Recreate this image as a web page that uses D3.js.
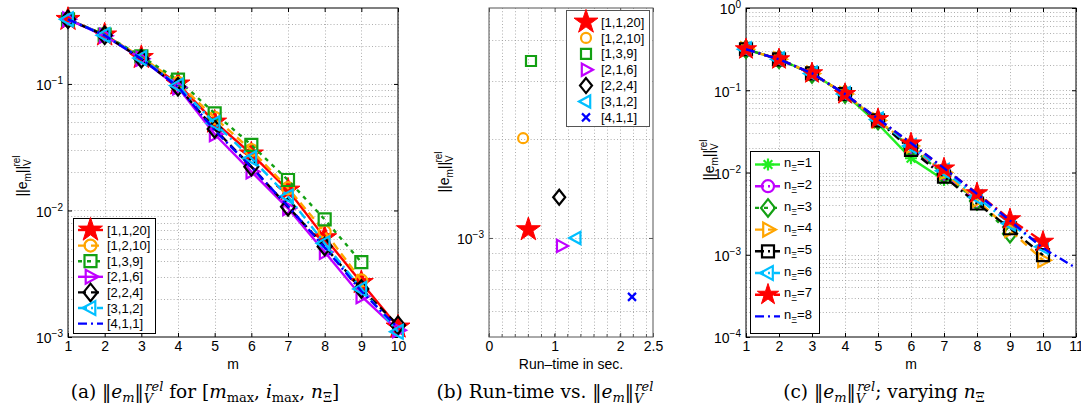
<!DOCTYPE html>
<html>
<head>
<meta charset="utf-8">
<script src="https://cdn.jsdelivr.net/npm/d3@7"></script>
<style>
  body { margin: 0; background: #fff; }
  svg { display: block; }
  text { font-family: "Liberation Sans", Arial, Helvetica, sans-serif; fill: #000; }
  .cap { font-family: "DejaVu Serif", "Liberation Serif", serif; }
</style>
</head>
<body>
<svg id="fig" width="1081" height="418"></svg>
<script>
// ---------- data ----------
// (a) relative error vs. m for the [m_max, i_max, n_Xi] settings
const mA = [1, 2, 3, 4, 5, 6, 7, 8, 9, 10];
const seriesA_names = ["[1,1,20]", "[1,2,10]", "[1,3,9]", "[2,1,6]", "[2,2,4]", "[3,1,2]", "[4,1,1]"];
const errA_1_1_20 = [0.324, 0.244, 0.162, 0.100, 0.050, 0.0280, 0.0145, 0.0061, 0.0027, 0.00120];
const errA_1_2_10 = [0.324, 0.244, 0.163, 0.102, 0.054, 0.0300, 0.0150, 0.0068, 0.0028];
const errA_1_3_9  = [0.324, 0.245, 0.165, 0.108, 0.0586, 0.0330, 0.0174, 0.0085, 0.0039];
const errA_2_1_6  = [0.324, 0.240, 0.158, 0.094, 0.0400, 0.0203, 0.0104, 0.0047, 0.0021, 0.00113];
const errA_2_2_4  = [0.324, 0.242, 0.158, 0.095, 0.0440, 0.0222, 0.0107, 0.0052, 0.0024, 0.00124];
const errA_3_1_2  = [0.324, 0.243, 0.160, 0.097, 0.0489, 0.0259, 0.0129, 0.0055, 0.0024, 0.00110];
const errA_4_1_1  = [0.324, 0.242, 0.158, 0.095, 0.0430, 0.0220, 0.0108, 0.0051, 0.0023, 0.00118];

// (b) run-time in seconds vs. final relative error
const runtimeB = [0.60, 0.52, 0.64, 1.10, 1.07, 1.33, 2.18];
const errB     = [1.06e-3, 2.01e-3, 3.45e-3, 9.46e-4, 1.33e-3, 1.0e-3, 6.62e-4];

// (c) relative error vs. m for varying n_Xi
const mC = [1, 2, 3, 4, 5, 6, 7, 8, 9, 10, 11];
const seriesC_names = ["1", "2", "3", "4", "5", "6", "7", "8"];
const errC_n1 = [0.315, 0.238, 0.160, 0.090, 0.039, 0.0149, 0.0081];
const errC_n2 = [0.315, 0.238, 0.160, 0.090, 0.043, 0.0200, 0.0095, 0.0044];
const errC_n3 = [0.315, 0.238, 0.158, 0.090, 0.043, 0.0200, 0.0095, 0.0045, 0.0018];
const errC_n4 = [0.315, 0.238, 0.160, 0.090, 0.043, 0.0210, 0.0100, 0.0046, 0.0020, 0.00086];
const errC_n5 = [0.315, 0.238, 0.160, 0.090, 0.043, 0.0188, 0.0089, 0.0042, 0.0021, 0.00099];
const errC_n6 = [0.315, 0.238, 0.160, 0.090, 0.044, 0.0210, 0.0105, 0.0050, 0.0024, 0.00125];
const errC_n7 = [0.315, 0.238, 0.161, 0.090, 0.0446, 0.0226, 0.0112, 0.0056, 0.0027, 0.00144];
const errC_n8 = [0.315, 0.238, 0.161, 0.090, 0.045, 0.0228, 0.0113, 0.0055, 0.0026, 0.00120, 0.00069];

// tick labels
const xTicksA = [1, 2, 3, 4, 5, 6, 7, 8, 9, 10];
const yTicksA = [1e-3, 1e-2, 1e-1];
const xTicksB = [0, 1, 2, 2.5];
const yTicksB = [1e-3];
const xTicksC = [1, 2, 3, 4, 5, 6, 7, 8, 9, 10, 11];
const yTicksC = [1e-4, 1e-3, 1e-2, 1e-1, 1];

// ---------- styles ----------
const C = {
  red: "#ff0000", orange: "#ffa500", green: "#13a013", magenta: "#c000ff",
  black: "#000000", cyan: "#00bfff", blue: "#0000ff", lime: "#22ee22"
};
const DASH = { solid: null, dashed: "8,5", dotted: "4,5", dashdot: "9,4,2,4" };

const styleA = [
  { data: errA_1_1_20, color: C.red,     dash: "solid",   marker: "star",  size: 9,  fill: true },
  { data: errA_1_2_10, color: C.orange,  dash: "dashed",  marker: "circle", size: 6 },
  { data: errA_1_3_9,  color: C.green,   dash: "dotted",  marker: "square", size: 6 },
  { data: errA_2_1_6,  color: C.magenta, dash: "solid",   marker: "triR",  size: 8 },
  { data: errA_2_2_4,  color: C.black,   dash: "dashed",  marker: "diamond", size: 7 },
  { data: errA_3_1_2,  color: C.cyan,    dash: "dashdot", marker: "triL",  size: 8 },
  { data: errA_4_1_1,  color: C.blue,    dash: "dashdot", marker: null }
];
const styleB = [
  { color: C.red,     marker: "star",    size: 9, fill: true },
  { color: C.orange,  marker: "circle",  size: 5 },
  { color: C.green,   marker: "square",  size: 5 },
  { color: C.magenta, marker: "triR",    size: 7 },
  { color: C.black,   marker: "diamond", size: 6 },
  { color: C.cyan,    marker: "triL",    size: 7 },
  { color: C.blue,    marker: "x",       size: 4 }
];
const styleC = [
  { data: errC_n1, color: C.lime,    dash: "solid",   marker: "asterisk", size: 6 },
  { data: errC_n2, color: C.magenta, dash: "dashdot", marker: "circle",   size: 6 },
  { data: errC_n3, color: C.green,   dash: "dotted",  marker: "diamond",  size: 7 },
  { data: errC_n4, color: C.orange,  dash: "dashed",  marker: "triR",     size: 8 },
  { data: errC_n5, color: C.black,   dash: "dashdot", marker: "square",   size: 6 },
  { data: errC_n6, color: C.cyan,    dash: "dashdot", marker: "triL",     size: 8 },
  { data: errC_n7, color: C.red,     dash: "dashdot", marker: "star",     size: 8, fill: true },
  { data: errC_n8, color: C.blue,    dash: "dashdot", marker: null }
];

// ---------- marker shapes ----------
function markerPath(type, r) {
  switch (type) {
    case "circle": return d3.symbol(d3.symbolCircle, Math.PI * r * r)();
    case "square": return `M${-r},${-r}H${r}V${r}H${-r}Z`;
    case "diamond": return `M0,${-r * 1.25}L${r},0L0,${r * 1.25}L${-r},0Z`;
    case "triR": return `M${r},0L${-r * 0.6},${-r * 0.87}L${-r * 0.6},${r * 0.87}Z`;
    case "triL": return `M${-r},0L${r * 0.6},${-r * 0.87}L${r * 0.6},${r * 0.87}Z`;
    case "star": return d3.symbol(d3.symbolStar, r * r * 2.2)();
    case "x": return `M${-r},${-r}L${r},${r}M${-r},${r}L${r},${-r}`;
    case "asterisk": {
      const d = r * 0.72;
      return `M${-r},0L${r},0M0,${-r}L0,${r}M${-d},${-d}L${d},${d}M${-d},${d}L${d},${-d}`;
    }
  }
  return "";
}

function drawMarker(g, s, x, y) {
  if (!s.marker) return;
  g.append("path")
    .attr("d", markerPath(s.marker, s.size))
    .attr("transform", `translate(${x},${y})`)
    .attr("fill", s.fill ? s.color : "none")
    .attr("stroke", s.color)
    .attr("stroke-width", s.fill ? 1 : 2.2)
    .attr("stroke-linejoin", "miter");
}

const svg = d3.select("#fig");

// ---------- generic panel frame ----------
function supTick(sel, v) {
  const e = Math.round(Math.log10(v));
  sel.text("10");
  sel.append("tspan").attr("dy", -6).attr("font-size", 10).text(e < 0 ? "\u2212" + (-e) : e);
}

function frame(opt) {
  const { x, y, xTicks, xLabelFmt, yTicks, xGrid, boxColor } = opt;
  const g = svg.append("g");
  const [x0, x1] = x.range();
  const [y0, y1] = y.range(); // y0 bottom, y1 top

  // grid
  const grid = g.append("g").attr("stroke", "#9a9a9a").attr("stroke-width", 0.8)
    .attr("stroke-dasharray", "1,2.2");
  xGrid.forEach(v => {
    const px = Math.round(x(v)) + 0.5;
    grid.append("line").attr("x1", px).attr("x2", px).attr("y1", y1).attr("y2", y0);
  });
  const [dLo, dHi] = y.domain();
  const minor = [];
  for (let e = Math.floor(Math.log10(dLo)); e <= Math.ceil(Math.log10(dHi)); e++) {
    for (let k = 1; k <= 9; k++) {
      const v = k * Math.pow(10, e);
      if (v >= dLo * 1.0001 && v <= dHi * 0.9999) minor.push(v);
    }
  }
  minor.forEach(v => {
    const py = Math.round(y(v)) + 0.5;
    grid.append("line").attr("x1", x0).attr("x2", x1).attr("y1", py).attr("y2", py);
  });

  // axes (ticks point inward)
  const ax = d3.axisBottom(x).tickValues(xTicks).tickSize(-4).tickPadding(4).tickFormat(xLabelFmt);
  const axT = d3.axisTop(x).tickValues(xTicks).tickSize(-4).tickFormat("");
  const ay = d3.axisLeft(y).tickValues(yTicks).tickSize(-4).tickPadding(6).tickFormat("");
  const ayR = d3.axisRight(y).tickValues(yTicks).tickSize(-4).tickFormat("");
  const gx = g.append("g").attr("transform", `translate(0,${y0})`).call(ax);
  g.append("g").attr("transform", `translate(0,${y1})`).call(axT);
  const gy = g.append("g").attr("transform", `translate(${x0},0)`).call(ay);
  g.append("g").attr("transform", `translate(${x1},0)`).call(ayR);
  g.selectAll(".domain").remove();
  g.selectAll(".tick line").attr("stroke", boxColor);
  gx.selectAll("text").attr("font-size", 14).attr("font-family", "Liberation Sans, Arial, sans-serif");
  gy.selectAll(".tick").append("text")
    .attr("x", -5).attr("dy", "0.42em").attr("text-anchor", "end")
    .attr("font-size", 14).attr("fill", "#000")
    .each(function (v) { supTick(d3.select(this), v); });

  // box
  g.append("rect").attr("x", x0).attr("y", y1).attr("width", x1 - x0).attr("height", y0 - y1)
    .attr("fill", "none").attr("stroke", boxColor).attr("stroke-width", 1);
  return g;
}

function yLabel(cx, cy) {
  const t = svg.append("text").attr("transform", `translate(${cx},${cy}) rotate(-90)`)
    .attr("text-anchor", "middle").attr("font-size", 14);
  t.append("tspan").text("||e");
  t.append("tspan").attr("font-size", 10).attr("dy", 4).text("m");
  t.append("tspan").attr("dy", -4).text("||");
  t.append("tspan").attr("font-size", 10).attr("dy", 4).text("V");
  t.append("tspan").attr("font-size", 10).attr("dx", -7).attr("dy", -11).text("rel");
}

function drawSeries(g, x, y, xs, list) {
  list.forEach(s => {
    const pts = s.data.map((v, i) => [xs[i], v]);
    const line = d3.line().x(d => x(d[0])).y(d => y(d[1]));
    g.append("path").attr("d", line(pts)).attr("fill", "none")
      .attr("stroke", s.color).attr("stroke-width", 2.4)
      .attr("stroke-dasharray", DASH[s.dash]);
    pts.forEach(d => drawMarker(g, s, x(d[0]), y(d[1])));
  });
}

// ---------- panel (a) ----------
const xA = d3.scaleLinear().domain([1, 10]).range([68, 398]);
const yA = d3.scaleLog().domain([1e-3, Math.pow(10, -0.4)]).range([337, 8]);
const gA = frame({ x: xA, y: yA, xTicks: xTicksA, xLabelFmt: d3.format("d"), yTicks: yTicksA,
  xGrid: xTicksA, boxColor: "#000" });
const plotA = gA.append("g");
drawSeries(plotA, xA, yA, mA, styleA);
svg.append("text").attr("x", 233).attr("y", 369).attr("text-anchor", "middle").attr("font-size", 14).text("m");
yLabel(27, 176);

// legend (a)
const legA = svg.append("g");
legA.append("rect").attr("x", 73.5).attr("y", 218.5).attr("width", 82).attr("height", 115)
  .attr("fill", "#fff").attr("stroke", "#000");
styleA.forEach((s, i) => {
  const ly = 230 + i * 15.6;
  legA.append("line").attr("x1", 78).attr("x2", 103).attr("y1", ly).attr("y2", ly)
    .attr("stroke", s.color).attr("stroke-width", 2.4).attr("stroke-dasharray", DASH[s.dash]);
  drawMarker(legA, s, 90.5, ly);
  legA.append("text").attr("x", 107).attr("y", ly).attr("dy", "0.36em").attr("font-size", 13)
    .text(seriesA_names[i]);
});

// ---------- panel (b) ----------
const xB = d3.scaleLinear().domain([0, 2.5]).range([489, 653]);
const yB = d3.scaleLog().domain([5e-4, 5e-3]).range([337, 8]);
const gridB = d3.range(0, 2.41, 0.2);
const gB = frame({ x: xB, y: yB, xTicks: xTicksB, xLabelFmt: d => d3.format("")(d), yTicks: yTicksB,
  xGrid: gridB, boxColor: "#555" });
// minor ticks along the x axis
gridB.forEach(v => {
  gB.append("line").attr("x1", xB(v)).attr("x2", xB(v)).attr("y1", 337).attr("y2", 334).attr("stroke", "#555");
});
runtimeB.forEach((t, i) => drawMarker(gB, styleB[i], xB(t), yB(errB[i])));
svg.append("text").attr("x", 571).attr("y", 369).attr("text-anchor", "middle").attr("font-size", 14)
  .text("Run\u2013time in sec.");
yLabel(449, 172);

// legend (b)
const legB = svg.append("g");
legB.append("rect").attr("x", 566.5).attr("y", 10.5).attr("width", 83).attr("height", 116)
  .attr("fill", "#fff").attr("stroke", "#555");
styleB.forEach((s, i) => {
  const ly = 22 + i * 15.9;
  drawMarker(legB, s, 586, ly);
  legB.append("text").attr("x", 601).attr("y", ly).attr("dy", "0.36em").attr("font-size", 13)
    .text(seriesA_names[i]);
});

// ---------- panel (c) ----------
const xC = d3.scaleLinear().domain([1, 11]).range([746, 1076]);
const yC = d3.scaleLog().domain([1e-4, 1]).range([337, 8]);
const gC = frame({ x: xC, y: yC, xTicks: xTicksC, xLabelFmt: d3.format("d"), yTicks: yTicksC,
  xGrid: xTicksC, boxColor: "#000" });
const plotC = gC.append("g");
drawSeries(plotC, xC, yC, mC, styleC);
svg.append("text").attr("x", 911).attr("y", 369).attr("text-anchor", "middle").attr("font-size", 14).text("m");
yLabel(714, 160);

// legend (c)
const legC = svg.append("g");
legC.append("rect").attr("x", 750.5).attr("y", 151.5).attr("width", 69).attr("height", 182)
  .attr("fill", "#fff").attr("stroke", "#000");
styleC.forEach((s, i) => {
  const ly = 164.5 + i * 21.7;
  legC.append("line").attr("x1", 755).attr("x2", 780).attr("y1", ly).attr("y2", ly)
    .attr("stroke", s.color).attr("stroke-width", 2.4).attr("stroke-dasharray", DASH[s.dash]);
  drawMarker(legC, s, 768, ly);
  const t = legC.append("text").attr("x", 784).attr("y", ly).attr("dy", "0.2em").attr("font-size", 13);
  t.append("tspan").text("n");
  t.append("tspan").attr("font-size", 9).attr("dy", 4).text("\u039E");
  t.append("tspan").attr("dy", -4).text("=" + seriesC_names[i]);
});

// ---------- captions ----------
function caption(cx, parts) {
  const t = svg.append("text").attr("class", "cap").attr("x", cx).attr("y", 398)
    .attr("text-anchor", "middle").attr("font-size", 18.5);
  parts.forEach(p => {
    const ts = t.append("tspan").text(p.t);
    if (p.i) ts.attr("font-style", "italic");
    if (p.s) ts.attr("font-size", 13);
    if (p.dy) ts.attr("dy", p.dy);
    if (p.dx) ts.attr("dx", p.dx);
  });
}
caption(205, [
  { t: "(a) \u2016" }, { t: "e", i: 1 }, { t: "m", i: 1, s: 1, dy: 4 }, { t: "\u2016", dy: -4 },
  { t: "V", i: 1, s: 1, dy: 5 }, { t: "rel", i: 1, s: 1, dy: -12, dx: -8 },
  { t: " for [", dy: 7 }, { t: "m", i: 1 }, { t: "max", s: 1, dy: 4 }, { t: ", ", dy: -4 },
  { t: "i", i: 1 }, { t: "max", s: 1, dy: 4 }, { t: ", ", dy: -4 },
  { t: "n", i: 1 }, { t: "\u039E", s: 1, dy: 4 }, { t: "]", dy: -4 }
]);
caption(545, [
  { t: "(b) Run-time vs.  \u2016" }, { t: "e", i: 1 }, { t: "m", i: 1, s: 1, dy: 4 }, { t: "\u2016", dy: -4 },
  { t: "V", i: 1, s: 1, dy: 5 }, { t: "rel", i: 1, s: 1, dy: -12, dx: -8 }
]);
caption(884, [
  { t: "(c) \u2016" }, { t: "e", i: 1 }, { t: "m", i: 1, s: 1, dy: 4 }, { t: "\u2016", dy: -4 },
  { t: "V", i: 1, s: 1, dy: 5 }, { t: "rel", i: 1, s: 1, dy: -12, dx: -8 },
  { t: "; varying ", dy: 7 }, { t: "n", i: 1 }, { t: "\u039E", s: 1, dy: 4 }
]);
</script>
</body>
</html>
